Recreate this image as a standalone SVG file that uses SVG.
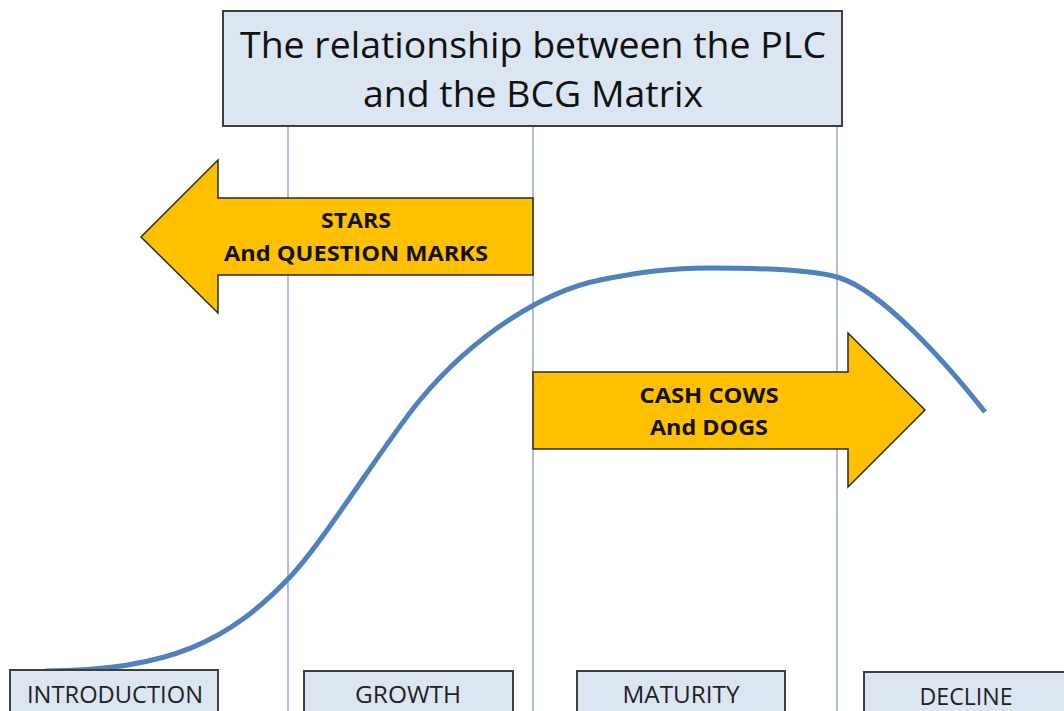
<svg xmlns="http://www.w3.org/2000/svg" width="1064" height="711" viewBox="0 0 1064 711">
<style>
.box{fill:#dce6f2;stroke:#3f3f3f;stroke-width:2}
.vline{stroke:#7f9bc6;stroke-width:1.3}
.arrow{fill:#ffc000;stroke:#2a2a2a;stroke-width:1.5;stroke-linejoin:miter}
.title{font-family:"Open Sans","Liberation Sans",sans-serif;font-size:37px;fill:#111;text-anchor:middle}
.atext{font-family:"Open Sans","Liberation Sans",sans-serif;font-weight:bold;font-size:21px;fill:#111;text-anchor:middle}
.label{font-family:"Open Sans","Liberation Sans",sans-serif;font-size:23px;fill:#222;text-anchor:middle}
.curve{fill:none;stroke:#4f81bd;stroke-width:5;stroke-linecap:butt}
</style>
<rect width="1064" height="711" fill="#ffffff"/>
<g id="connectors">
<line class="vline" x1="288" y1="126" x2="288" y2="711"/>
<line class="vline" x1="533" y1="126" x2="533" y2="711"/>
<line class="vline" x1="837" y1="126" x2="837" y2="711"/>
<path class="curve" d="M45 671 C170 671 230 640 290 577 C325 540 385 442 420 400 C475 334 545 291 600 280 C640 272 670 268 710 268 C770 268 815 270 840 278 C880 290.8 940 355 985 412"/>
</g>
<g id="title">
<rect class="box" x="223" y="11" width="619" height="115"/>
<text class="title" x="533" y="58" textLength="586" lengthAdjust="spacingAndGlyphs">The relationship between the PLC</text>
<text class="title" x="533" y="107" textLength="340" lengthAdjust="spacingAndGlyphs">and the BCG Matrix</text>
</g>
<g id="stars-arrow">
<polygon class="arrow" points="533,198 218,198 218,160 141,237 218,313 218,275 533,275"/>
<text class="atext" x="356" y="228" textLength="70" lengthAdjust="spacingAndGlyphs">STARS</text>
<text class="atext" x="356" y="261" textLength="264" lengthAdjust="spacingAndGlyphs">And QUESTION MARKS</text>
</g>
<g id="cows-arrow">
<polygon class="arrow" points="533,372 848,372 848,333 925,410 848,487 848,449 533,449"/>
<text class="atext" x="709" y="403" textLength="139" lengthAdjust="spacingAndGlyphs">CASH COWS</text>
<text class="atext" x="709" y="435" textLength="118" lengthAdjust="spacingAndGlyphs">And DOGS</text>
</g>
<g id="introduction">
<rect class="box" x="10" y="670" width="208" height="50"/>
<text class="label" x="115" y="703" textLength="176" lengthAdjust="spacingAndGlyphs">INTRODUCTION</text>
</g>
<g id="growth">
<rect class="box" x="304" y="671" width="209" height="50"/>
<text class="label" x="408" y="703" textLength="106" lengthAdjust="spacingAndGlyphs">GROWTH</text>
</g>
<g id="maturity">
<rect class="box" x="577" y="671" width="208" height="50"/>
<text class="label" x="681" y="703" textLength="117" lengthAdjust="spacingAndGlyphs">MATURITY</text>
</g>
<g id="decline">
<rect class="box" x="864" y="672" width="220" height="50"/>
<text class="label" x="966" y="705" textLength="93" lengthAdjust="spacingAndGlyphs">DECLINE</text>
</g>
</svg>
